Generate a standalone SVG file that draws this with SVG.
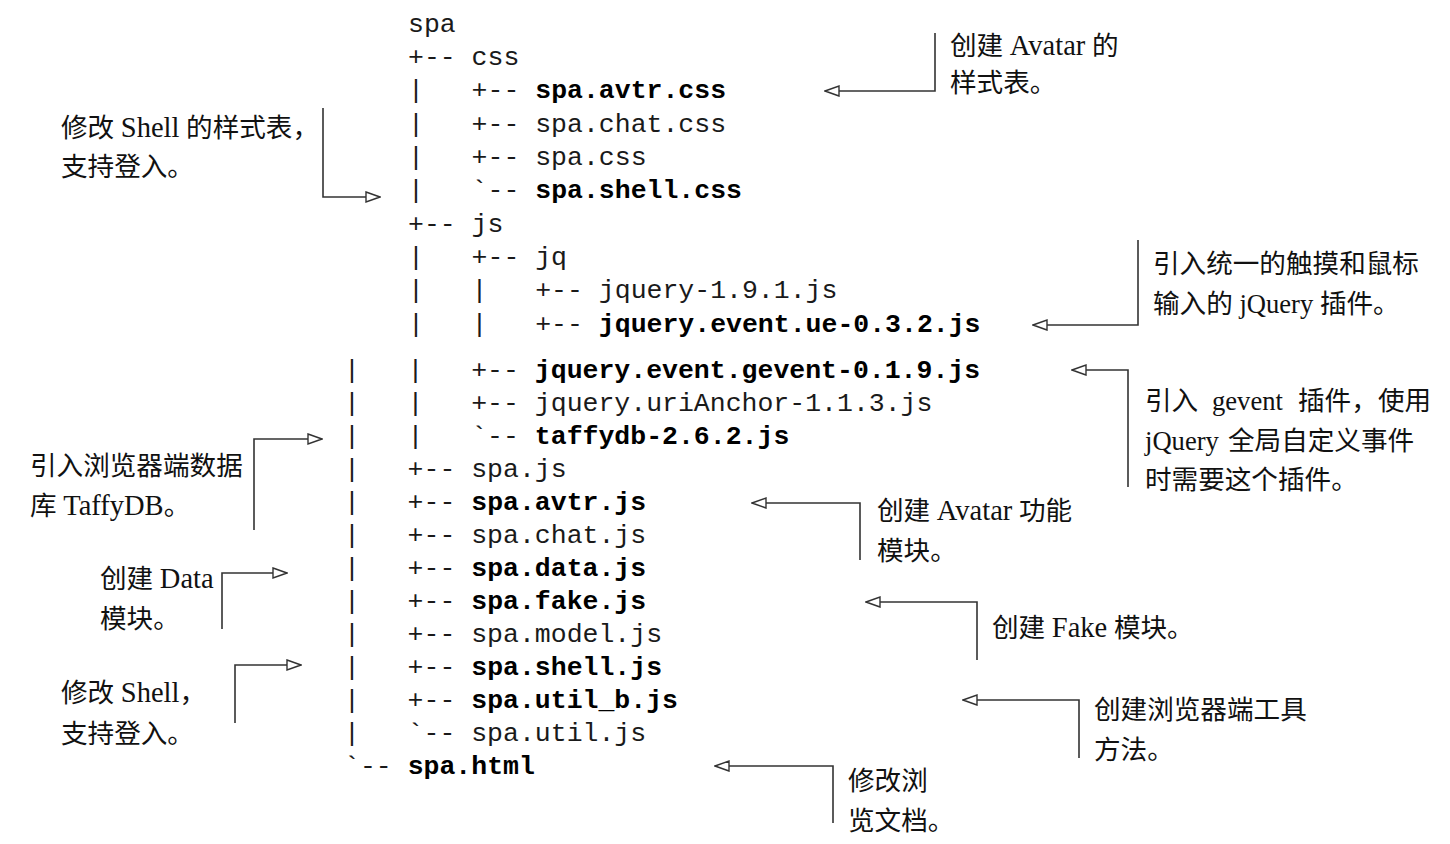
<svg xmlns="http://www.w3.org/2000/svg" width="1450" height="844" viewBox="0 0 1450 844">
<style>
.t{font-family:"Liberation Mono","DejaVu Sans Mono",monospace;font-size:26.5px;fill:#1a1a1a;white-space:pre}
.b{font-weight:bold;fill:#000}
.n{font-family:"Liberation Serif","Noto Sans CJK SC",serif;font-size:26.6px;fill:#111}
.l{font-size:28.5px}
.c{fill:none;stroke:#333;stroke-width:1.6}
</style>
<defs>
<marker id="ah" markerUnits="userSpaceOnUse" markerWidth="16" markerHeight="12" refX="15" refY="6" orient="auto">
<path d="M1,1 L15,6 L1,11 Z" fill="#fff" stroke="#333" stroke-width="1.4"/>
</marker>
</defs>
<rect width="1450" height="844" fill="#fff"/>
<g id="tree" xml:space="preserve">
<text class="t" x="408" y="32">spa</text>
<text class="t" x="408" y="65">+-- css</text>
<text class="t" x="408" y="98">|   +-- <tspan class="b">spa.avtr.css</tspan></text>
<text class="t" x="408" y="132">|   +-- spa.chat.css</text>
<text class="t" x="408" y="165">|   +-- spa.css</text>
<text class="t" x="408" y="198">|   `-- <tspan class="b">spa.shell.css</tspan></text>
<text class="t" x="408" y="232">+-- js</text>
<text class="t" x="408" y="265">|   +-- jq</text>
<text class="t" x="408" y="298">|   |   +-- jquery-1.9.1.js</text>
<text class="t" x="408" y="332">|   |   +-- <tspan class="b">jquery.event.ue-0.3.2.js</tspan></text>
<text class="t" x="344" y="378">|   |   +-- <tspan class="b">jquery.event.gevent-0.1.9.js</tspan></text>
<text class="t" x="344" y="411">|   |   +-- jquery.uriAnchor-1.1.3.js</text>
<text class="t" x="344" y="444">|   |   `-- <tspan class="b">taffydb-2.6.2.js</tspan></text>
<text class="t" x="344" y="477">|   +-- spa.js</text>
<text class="t" x="344" y="510">|   +-- <tspan class="b">spa.avtr.js</tspan></text>
<text class="t" x="344" y="543">|   +-- spa.chat.js</text>
<text class="t" x="344" y="576">|   +-- <tspan class="b">spa.data.js</tspan></text>
<text class="t" x="344" y="609">|   +-- <tspan class="b">spa.fake.js</tspan></text>
<text class="t" x="344" y="642">|   +-- spa.model.js</text>
<text class="t" x="344" y="675">|   +-- <tspan class="b">spa.shell.js</tspan></text>
<text class="t" x="344" y="708">|   +-- <tspan class="b">spa.util_b.js</tspan></text>
<text class="t" x="344" y="741">|   `-- spa.util.js</text>
<text class="t" x="344" y="774">`-- <tspan class="b">spa.html</tspan></text>
</g>
<g id="connectors">
<path class="c" marker-end="url(#ah)" d="M323,108 V197 H380"/>
<path class="c" marker-end="url(#ah)" d="M935,33 V91 H825"/>
<path class="c" marker-end="url(#ah)" d="M1138,240 V325 H1033"/>
<path class="c" marker-end="url(#ah)" d="M1128,487 V370 H1072"/>
<path class="c" marker-end="url(#ah)" d="M254,530 V439 H322"/>
<path class="c" marker-end="url(#ah)" d="M222,629 V573 H287"/>
<path class="c" marker-end="url(#ah)" d="M235,723 V665 H301"/>
<path class="c" marker-end="url(#ah)" d="M860,560 V503 H752"/>
<path class="c" marker-end="url(#ah)" d="M977,660 V602 H866"/>
<path class="c" marker-end="url(#ah)" d="M1079,758 V700 H963"/>
<path class="c" marker-end="url(#ah)" d="M833,823 V766 H715"/>
</g>
<g id="note-avatar-css">
<text class="n" x="950" y="55">创建 <tspan class="l">Avatar</tspan> 的</text>
<text class="n" x="950" y="92">样式表。</text>
</g>
<g id="note-shell-css">
<text class="n" x="61" y="137">修改 <tspan class="l">Shell</tspan> 的样式表，</text>
<text class="n" x="61" y="176">支持登入。</text>
</g>
<g id="note-ue">
<text class="n" x="1153" y="273">引入统一的触摸和鼠标</text>
<text class="n" x="1153" y="313">输入的 jQuery 插件。</text>
</g>
<g id="note-gevent">
<text class="n" y="410"><tspan x="1145">引入</tspan><tspan x="1212">gevent</tspan><tspan x="1298">插件，</tspan><tspan x="1378">使用</tspan></text>
<text class="n" y="450"><tspan x="1145">jQuery</tspan><tspan x="1228">全局自定义事件</tspan></text>
<text class="n" x="1145" y="489">时需要这个插件。</text>
</g>
<g id="note-taffydb">
<text class="n" x="30" y="475">引入浏览器端数据</text>
<text class="n" x="30" y="515">库 <tspan class="l">TaffyDB</tspan>。</text>
</g>
<g id="note-avatar-js">
<text class="n" x="877" y="520">创建 <tspan class="l">Avatar</tspan> 功能</text>
<text class="n" x="877" y="560">模块。</text>
</g>
<g id="note-data">
<text class="n" x="100" y="588">创建 <tspan class="l">Data</tspan></text>
<text class="n" x="100" y="628">模块。</text>
</g>
<g id="note-fake">
<text class="n" x="992" y="637">创建 <tspan class="l">Fake</tspan> 模块。</text>
</g>
<g id="note-shell-js">
<text class="n" x="61" y="702">修改 <tspan class="l">Shell</tspan>，</text>
<text class="n" x="61" y="743">支持登入。</text>
</g>
<g id="note-util-b">
<text class="n" x="1094" y="719">创建浏览器端工具</text>
<text class="n" x="1094" y="759">方法。</text>
</g>
<g id="note-html">
<text class="n" x="848" y="790">修改浏</text>
<text class="n" x="848" y="830">览文档。</text>
</g>
</svg>
